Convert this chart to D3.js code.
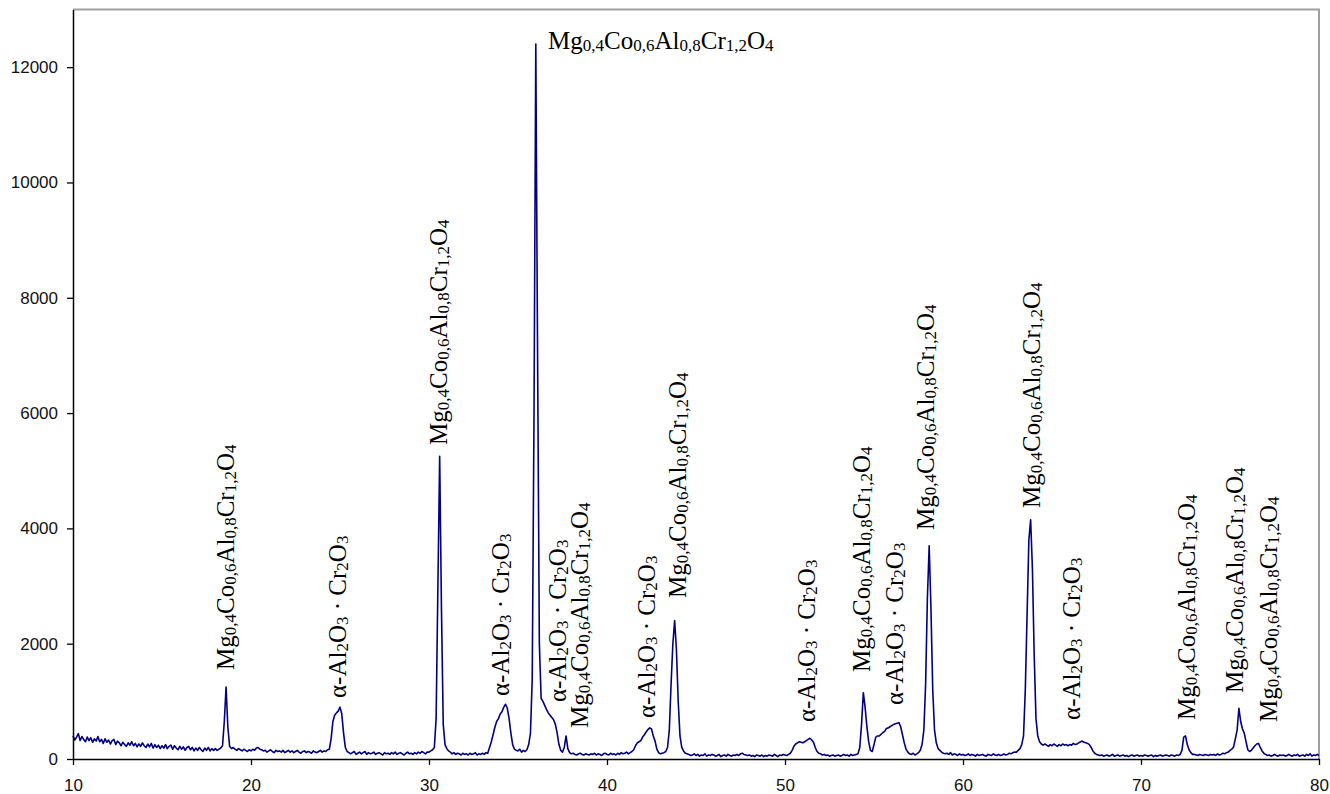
<!DOCTYPE html>
<html lang="en">
<head>
    <meta charset="UTF-8">
    <title>XRD pattern</title>
    <style>
    html, body {
        margin: 0;
        padding: 0;
        background-color: #ffffff;
    }

    svg {
        display: block;
    }

    .tick text {
        font-family: "Liberation Sans", Arial, sans-serif;
        font-size: 17px;
        fill: #111;
    }

    .phase-label {
        font-family: "Liberation Serif", "Times New Roman", serif;
        fill: #000;
    }
    </style>
    <script src="https://d3js.org/d3.v7.min.js"></script>
</head>
<body>
    <svg id="chart"></svg>

    <script>
    // Scan: 2-theta grid starting at each block's first angle, step 0.1 deg
    let scanStep = 0.1;

    // intensity (counts), 10.0 - 19.9
    let scan10 = [
        400, 330, 380, 440, 320, 390, 340, 300, 380, 320,
        370, 290, 350, 310, 390, 300, 340, 270, 350, 290,
        330, 260, 320, 340, 250, 310, 280, 230, 290, 250,
        220, 280, 240, 300, 230, 270, 210, 260, 220, 280,
        230, 200, 260, 210, 270, 190, 250, 200, 240, 180,
        230, 190, 250, 180, 220, 240, 170, 230, 190, 160,
        220, 170, 210, 150, 200, 220, 160, 200, 140, 190,
        150, 200, 160, 130, 190, 150, 200, 140, 180, 150,
        180, 150, 170, 190, 230, 650, 1250, 550, 220, 180,
        200, 170, 150, 180, 160, 140, 170, 150, 130, 160
    ];

    // 20.0 - 29.9
    let scan20 = [
        140, 170, 150, 190, 200, 170, 160, 140, 150, 120,
        140, 160, 130, 110, 150, 130, 140, 120, 150, 110,
        130, 150, 120, 140, 110, 130, 150, 120, 100, 130,
        140, 110, 130, 120, 100, 140, 120, 110, 130, 150,
        120, 140, 130, 160, 170, 350, 650, 760, 800, 830,
        900, 780, 450, 200, 130, 110, 90, 110, 130, 80,
        100, 120, 90, 110, 130, 80, 110, 90, 100, 120,
        80, 100, 110, 90, 70, 110, 90, 100, 80, 110,
        90, 120, 80, 100, 110, 90, 70, 100, 120, 90,
        100, 80, 110, 90, 120, 100, 130, 110, 90, 120
    ];

    // 30.0 - 39.9
    let scan30 = [
        120, 140, 160, 200, 700, 3000, 5250, 2600, 600, 250,
        180, 140, 120, 90, 110, 80, 100, 90, 70, 100,
        80, 90, 70, 100, 80, 90, 110, 70, 90, 80,
        100, 80, 110, 100, 200, 300, 420, 550, 650, 700,
        780, 820, 900, 950, 880, 700, 450, 250, 170, 150,
        140, 170, 120, 150, 130, 160, 250, 450, 1400, 6000,
        12400, 7000, 2000, 1050, 1000, 930, 860, 800, 760, 720,
        680, 600, 450, 250, 150, 120, 200, 400, 180, 110,
        90, 100, 80, 70, 90, 100, 80, 70, 90, 80,
        70, 90, 80, 100, 70, 90, 80, 60, 90, 100
    ];

    // 40.0 - 49.9
    let scan40 = [
        80, 70, 100, 80, 90, 70, 100, 80, 110, 90,
        100, 120, 90, 110, 130, 160, 230, 280, 300, 320,
        380, 420, 470, 510, 540, 520, 400, 310, 170, 110,
        90, 100, 110, 130, 200, 500, 1300, 2000, 2400, 1900,
        1000, 400, 200, 140, 100, 90, 80, 60, 70, 90,
        60, 80, 50, 70, 60, 90, 50, 70, 60, 80,
        70, 50, 60, 80, 40, 60, 70, 50, 80, 60,
        50, 70, 60, 80, 60, 90, 100, 80, 70, 60,
        70, 50, 60, 40, 70, 60, 50, 70, 40, 60,
        50, 70, 60, 50, 80, 60, 40, 70, 60, 80
    ];

    // 50.0 - 59.9
    let scan50 = [
        70, 60, 80, 100, 150, 220, 260, 280, 300, 290,
        280, 300, 320, 340, 360, 330, 290, 200, 130, 100,
        90, 70, 80, 60, 70, 50, 60, 70, 50, 60,
        70, 50, 60, 80, 60, 70, 50, 80, 60, 70,
        80, 90, 200, 600, 1150, 900, 560, 300, 150, 130,
        250, 380, 400, 400, 430, 460, 480, 530, 540, 560,
        580, 600, 610, 620, 630, 560, 420, 280, 170, 120,
        90, 80, 100, 70, 90, 110, 150, 250, 500, 1300,
        2800, 3700, 2600, 1200, 500, 280, 180, 150, 120, 100,
        90, 100, 80, 110, 70, 90, 80, 60, 90, 70
    ];

    // 60.0 - 69.9
    let scan60 = [
        80, 60, 70, 90, 60, 80, 70, 50, 80, 60,
        70, 80, 60, 50, 80, 70, 60, 90, 70, 60,
        80, 60, 70, 90, 70, 80, 100, 90, 110, 120,
        120, 150, 180, 250, 400, 1200, 2500, 3800, 4150, 3300,
        1800, 700, 400, 300, 260, 240, 260, 240, 220, 250,
        230, 260, 240, 220, 250, 230, 260, 240, 250, 230,
        250, 240, 270, 250, 260, 280, 300, 310, 290, 280,
        270, 250, 200, 140, 100, 80, 70, 60, 70, 50,
        60, 70, 50, 60, 80, 50, 60, 70, 50, 60,
        70, 50, 60, 40, 60, 70, 50, 60, 70, 50
    ];

    // 70.0 - 80.0
    let scan70 = [
        60, 50, 70, 60, 50, 60, 70, 40, 60, 50,
        60, 70, 50, 60, 70, 60, 50, 70, 60, 50,
        70, 60, 80, 150, 380, 400, 250, 160, 110, 80,
        80, 70, 60, 80, 70, 60, 80, 70, 60, 80,
        70, 80, 60, 90, 70, 80, 100, 90, 110, 120,
        150, 170, 210, 350, 500, 880, 650, 520, 450, 300,
        160, 130, 150, 190, 230, 260, 270, 200, 140, 100,
        80, 60, 70, 50, 60, 80, 60, 50, 70, 60,
        70, 50, 60, 80, 60, 50, 70, 60, 80, 50,
        60, 70, 50, 80, 60, 90, 50, 70, 60, 80,
        60
    ];

    let blockStarts = [10, 20, 30, 40, 50, 60, 70];
    let blocks = [scan10, scan20, scan30, scan40, scan50, scan60, scan70];

    // axis ticks
    let xTicks = [10, 20, 30, 40, 50, 60, 70, 80];
    let yTicks = [0, 2000, 4000, 6000, 8000, 10000, 12000];

    // phase names, split into [text, isSubscript]
    let spinelParts = [['Mg', 0], ['0,4', 1], ['Co', 0], ['0,6', 1], ['Al', 0], ['0,8', 1], ['Cr', 0], ['1,2', 1], ['O', 0], ['4', 1]];
    let corundumParts = [['\u03b1-Al', 0], ['2', 1], ['O', 0], ['3', 1], [' \u00b7 Cr', 0], ['2', 1], ['O', 0], ['3', 1]];

    // vertical peak labels: phase, 2-theta of baseline, counts where text starts
    let labelPhase = ['S', 'C', 'S', 'C', 'C', 'S', 'C', 'S', 'C', 'S', 'C', 'S', 'S', 'C', 'S', 'S', 'S'];
    let labelAngle = [19.04, 25.34, 31.01, 34.49, 37.70, 38.93, 42.70, 44.44, 51.69, 54.78, 56.63, 58.37, 64.33, 66.57, 73.03, 75.73, 77.64];
    let labelCount = [1544, 1058, 5448, 1093, 989, 538, 711, 2793, 642, 1509, 937, 3973, 4355, 677, 677, 1145, 642];

    // horizontal label at the main peak
    let topLabelAngle = 36.69;
    let topLabelCount = 12319;

    let width = 1330;
    let height = 794;
    let margin = {top: 9.5, right: 11, bottom: 35, left: 73};

    let svg = d3.select('#chart')
        .attr('width', width)
        .attr('height', height);

    let xScale = d3.scaleLinear()
        .domain([10, 80])
        .range([margin.left, width - margin.right]);

    let yScale = d3.scaleLinear()
        .domain([0, 13000])
        .range([height - margin.bottom, margin.top]);

    // build points from the blocks
    let points = [];
    blocks.forEach((block, b) => {
        block.forEach((c, i) => {
            points.push([+(blockStarts[b] + i * scanStep).toFixed(1), c]);
        });
    });

    // frame: grey top and right edges
    svg.append('path')
        .attr('d', 'M' + xScale(10) + ',' + yScale(13000) + 'H' + xScale(80) + 'V' + yScale(0))
        .attr('fill', 'none')
        .attr('stroke', '#a0a0a0')
        .attr('stroke-width', 2);

    // curve
    let line = d3.line()
        .x((d) => xScale(d[0]))
        .y((d) => yScale(d[1]));

    svg.append('path')
        .datum(points)
        .attr('d', line)
        .attr('fill', 'none')
        .attr('stroke', '#000080')
        .attr('stroke-width', 1.6)
        .attr('stroke-linejoin', 'round');

    // axes
    let xAxis = d3.axisBottom(xScale)
        .tickValues(xTicks)
        .tickSize(6)
        .tickSizeOuter(0)
        .tickPadding(14)
        .tickFormat(d3.format('d'));

    let yAxis = d3.axisLeft(yScale)
        .tickValues(yTicks)
        .tickSize(6)
        .tickSizeOuter(0)
        .tickPadding(9)
        .tickFormat(d3.format('d'));

    let gx = svg.append('g')
        .attr('transform', 'translate(0, ' + yScale(0) + ')')
        .call(xAxis);

    let gy = svg.append('g')
        .attr('transform', 'translate(' + xScale(10) + ', 0)')
        .call(yAxis);

    [gx, gy].forEach((g) => {
        g.select('.domain').attr('stroke', '#000').attr('stroke-width', 1.5);
        g.selectAll('.tick line').attr('stroke', '#000').attr('stroke-width', 1.3);
        g.selectAll('.tick text').attr('font-family', null).attr('font-size', null);
    });

    // labels
    let addLabel = (parts, px, py, rotate) => {
        let t = svg.append('text')
            .attr('class', 'phase-label')
            .attr('transform', 'translate(' + px + ',' + py + ')' + (rotate ? ' rotate(-90)' : ''));
        let shift = 0;
        parts.forEach((p) => {
            let want = p[1] ? 2 : 0;
            t.append('tspan')
                .attr('dy', want - shift)
                .attr('font-size', p[1] ? 17 : 25)
                .style('white-space', 'pre')
                .text(p[0]);
            shift = want;
        });
    };

    labelPhase.forEach((ph, i) => {
        addLabel(ph === 'S' ? spinelParts : corundumParts,
            xScale(labelAngle[i]), yScale(labelCount[i]), true);
    });

    addLabel(spinelParts, xScale(topLabelAngle), yScale(topLabelCount), false);
    </script>
</body>
</html>
